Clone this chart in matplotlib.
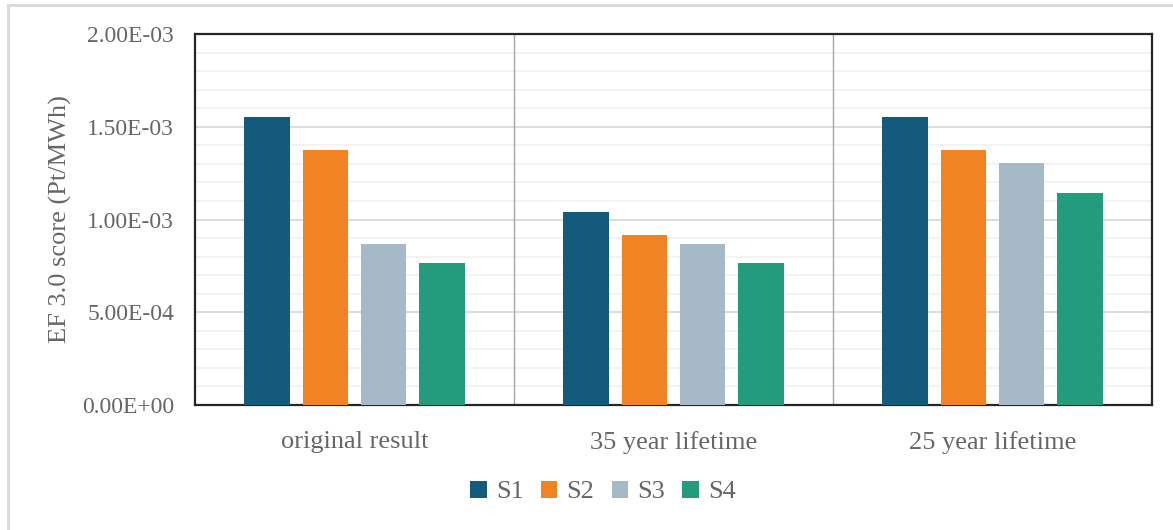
import numpy as np
import matplotlib.pyplot as plt
from matplotlib.lines import Line2D
from matplotlib.ticker import MultipleLocator

categories = ['original result', '35 year lifetime', '25 year lifetime']
series = ['S1', 'S2', 'S3', 'S4']
s1 = [1.553e-3, 1.040e-3, 1.553e-3]
s2 = [1.375e-3, 0.918e-3, 1.375e-3]
s3 = [0.868e-3, 0.868e-3, 1.303e-3]
s4 = [0.765e-3, 0.765e-3, 1.143e-3]
colors = ['#135a7c', '#f28322', '#a6b9c6', '#229c7d']
ytick_labels = ['0.00E+00', '5.00E-04', '1.00E-03', '1.50E-03', '2.00E-03']

plt.rcParams['font.family'] = ['Liberation Serif', 'DejaVu Serif']
txt = '#666666'

fig = plt.figure(figsize=(11.73, 5.30), dpi=100)
ax = fig.add_axes([195/1173, 1-405/530, (1152-195)/1173, (405-34)/530])

x = np.arange(len(categories))
step = 0.182
width = 0.144
for i, (vals, name) in enumerate(zip([s1, s2, s3, s4], series)):
    ax.bar(x + (i - 1.5)*step, vals, width, color=colors[i], label=name, zorder=3)

ax.set_xlim(-0.5, 2.5)
ax.set_ylim(0, 2e-3)
ax.set_yticks(np.arange(0, 2.01e-3, 5e-4))
ax.set_yticklabels(ytick_labels)
ax.yaxis.set_minor_locator(MultipleLocator(1e-4))
ax.grid(axis='y', which='major', color='#d9d9d9', lw=1.3, zorder=1)
ax.grid(axis='y', which='minor', color='#f2f2f2', lw=1.3, zorder=0)
ax.set_xticks(x)
ax.set_xticklabels(categories, fontsize=19)
ax.tick_params(axis='both', which='both', length=0, labelcolor=txt)
ax.tick_params(axis='y', labelsize=17, pad=15)
ax.tick_params(axis='x', pad=19)
for sep in [0.5, 1.5]:
    ax.axvline(sep, color='#a6a6a6', lw=1, zorder=2)
for sp in ax.spines.values():
    sp.set_color('#262626')
    sp.set_linewidth(1.6)
ax.set_ylabel('EF 3.0 score (Pt/MWh)', fontsize=19, color=txt, labelpad=7)

handles, labels = ax.get_legend_handles_labels()
fig.legend(handles, labels, loc='center', bbox_to_anchor=(603/1173, 1-492/530), ncol=4,
           frameon=False, fontsize=19, labelcolor=txt, handlelength=0.62, handleheight=0.62,
           handletextpad=0.35, columnspacing=0.65)

# outer chart border (only top/left visible)
fig.add_artist(Line2D([8/1173, 8/1173], [0, 1-5/530], color='#d9d9d9', lw=2))
fig.add_artist(Line2D([8/1173, 1], [1-5/530, 1-5/530], color='#d9d9d9', lw=2))

fig.savefig('out.png', dpi=100)
